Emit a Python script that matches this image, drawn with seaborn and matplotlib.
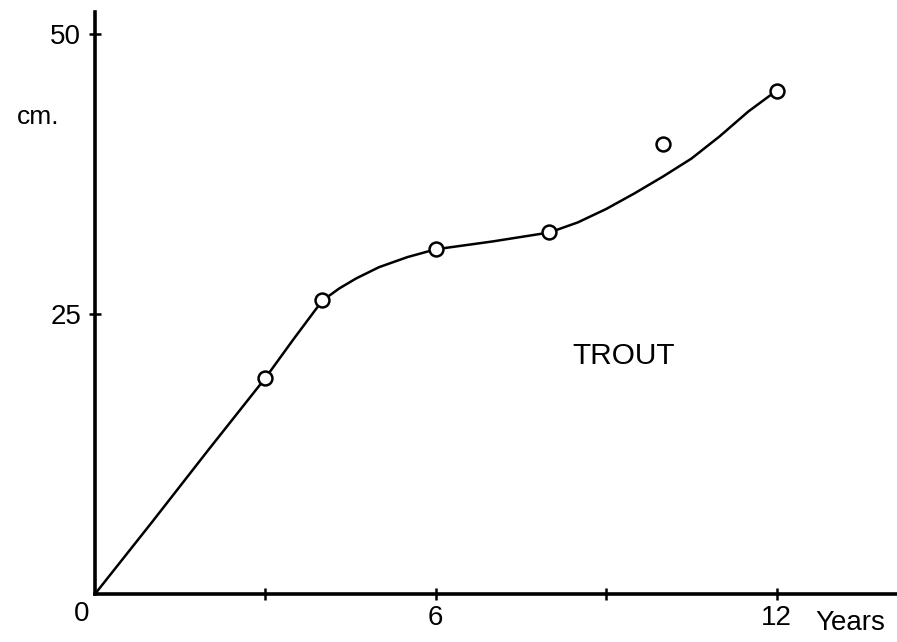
import numpy as np
import pandas as pd
import seaborn as sns
import matplotlib
matplotlib.use("Agg")
import matplotlib.pyplot as plt

# Titik pengamatan (umur dalam tahun, panjang dalam cm)
years = [3, 4, 6, 8, 10, 12]
length_cm = [19.3, 26.3, 30.8, 32.3, 40.2, 44.9]

# Kurva pertumbuhan yang digambar tangan
curve_years = [0, 1, 2, 3, 3.5, 4, 4.3, 4.6, 5, 5.5, 6, 7, 8, 8.5, 9, 9.5, 10, 10.5, 11, 11.5, 11.9]
curve_cm = [0, 6.4, 12.9, 19.3, 22.8, 26.2, 27.3, 28.2, 29.2, 30.1, 30.8, 31.5, 32.3, 33.2, 34.4,
            35.8, 37.3, 38.9, 40.9, 43.1, 44.6]

x_ticks = [3, 6, 9, 12]
x_tick_labels = ["", "6", "", "12"]
y_ticks = [25, 50]
y_tick_labels = ["25", "50"]

sns.set_style("white")
plt.rcParams["font.family"] = ["Liberation Sans", "DejaVu Sans"]
plt.rcParams["text.color"] = "black"

fig = plt.figure(figsize=(8.97, 6.42), dpi=100)
ax = fig.add_axes([95 / 897, 48 / 642, 802 / 897, 582 / 642])

points = pd.DataFrame({"year": years, "cm": length_cm})
curve = pd.DataFrame({"year": curve_years, "cm": curve_cm})

sns.lineplot(data=curve, x="year", y="cm", sort=False, color="black", linewidth=1.8, ax=ax, zorder=2)
sns.scatterplot(data=points, x="year", y="cm", marker="o", s=100, facecolor="white",
                edgecolor="black", linewidth=1.8, ax=ax, zorder=3)

ax.set_xlim(0, 14.12)
ax.set_ylim(0, 52.0)

for side in ["top", "right"]:
    ax.spines[side].set_visible(False)
for side in ["left", "bottom"]:
    ax.spines[side].set_linewidth(2.6)
    ax.spines[side].set_color("black")

ax.set_xticks(x_ticks)
ax.set_xticklabels(x_tick_labels)
ax.set_yticks(y_ticks)
ax.set_yticklabels(y_tick_labels)
ax.tick_params(axis="both", direction="inout", length=8, width=1.8, colors="black",
               labelsize=20, bottom=True, left=True)
ax.tick_params(axis="x", pad=4)
ax.tick_params(axis="y", pad=6)
ax.set_xlabel("")
ax.set_ylabel("")

ax.text(-0.23, -1.8, "0", fontsize=20, ha="center", va="center", clip_on=False)
ax.text(13.3, -2.6, "Years", fontsize=20, ha="center", va="center", clip_on=False)
ax.text(-1.0, 42.6, "cm.", fontsize=19, ha="center", va="center", clip_on=False)
ax.text(9.31, 21.3, "TROUT", fontsize=21.5, ha="center", va="center")

fig.savefig("out.png", dpi=100)
